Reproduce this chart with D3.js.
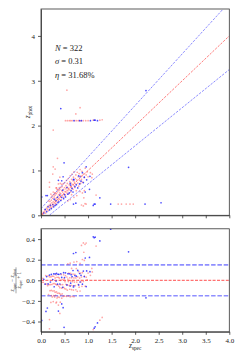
<!DOCTYPE html>
<meta charset="utf-8">
<style>
body { margin: 0; background: #fff; }
svg text { font-family: 'Liberation Serif', 'DejaVu Serif', serif; fill: #222; }
.axis path, .axis line { stroke: #333; stroke-width: 0.8px; }
.axis text { font-size: 7px; fill: #222; }
</style>
<body>
<svg width="240" height="360"></svg>
<script src="https://cdn.jsdelivr.net/npm/d3@7/dist/d3.min.js"></script>
<script>

// [z_spec, z_phot] pairs
var redPoints = [
  [0.02,0.04],[0.04,0.02],[0.05,0.07],[0.08,0.12],[0.10,0.05],[0.12,0.16],[0.14,0.20],[0.15,0.10],
  [0.17,0.22],[0.18,0.14],[0.19,0.31],[0.20,0.25],[0.21,0.17],[0.22,0.34],[0.23,0.28],[0.24,0.19],
  [0.25,0.38],[0.26,0.30],[0.27,0.22],[0.28,0.41],[0.29,0.33],[0.30,0.27],[0.30,0.45],[0.31,0.36],
  [0.32,0.25],[0.33,0.48],[0.33,0.39],[0.34,0.30],[0.35,0.52],[0.36,0.42],[0.37,0.33],[0.38,0.55],
  [0.38,0.46],[0.39,0.36],[0.40,0.50],[0.40,0.58],[0.41,0.41],[0.42,0.62],[0.42,0.48],[0.43,0.35],
  [0.44,0.55],[0.45,0.64],[0.45,0.44],[0.46,0.52],[0.47,0.70],[0.48,0.58],[0.48,0.40],[0.49,0.47],
  [0.50,0.62],[0.50,0.73],[0.51,0.53],[0.52,0.45],[0.53,0.66],[0.53,0.59],[0.54,0.78],[0.55,0.50],
  [0.56,0.63],[0.56,0.71],[0.57,0.55],[0.58,0.82],[0.58,0.60],[0.59,0.48],[0.60,0.68],[0.61,0.75],
  [0.61,0.57],[0.62,0.88],[0.63,0.64],[0.63,0.52],[0.64,0.72],[0.65,0.80],[0.65,0.61],[0.66,0.92],
  [0.67,0.69],[0.68,0.58],[0.68,0.77],[0.69,0.85],[0.70,0.66],[0.70,0.97],[0.71,0.74],[0.72,0.62],
  [0.73,0.82],[0.74,0.90],[0.74,0.70],[0.75,0.55],[0.76,0.79],[0.77,0.96],[0.78,0.72],[0.79,0.86],
  [0.80,0.65],[0.81,0.93],[0.82,0.78],[0.83,1.02],[0.84,0.71],[0.85,0.88],[0.86,0.80],[0.87,0.98],
  [0.88,0.74],[0.90,0.92],[0.92,0.84],[0.94,1.05],[0.96,0.90],[0.98,0.97],[1.00,0.86],[1.05,0.95],
  [0.16,0.32],[0.22,0.40],[0.27,0.46],[0.31,0.50],[0.36,0.58],[0.24,0.44],[0.29,0.50],[0.34,0.57],
  [0.39,0.62],[0.44,0.69],[0.26,0.52],[0.33,0.61],[0.41,0.71],[0.21,0.47],[0.37,0.70],[0.18,0.63],
  [0.18,0.735],[0.40,0.85],[0.32,0.61],
  [0.70,0.40],[0.76,0.44],[0.62,0.35],[0.88,0.50],[0.57,0.32],[0.92,0.55],[0.83,0.53],[0.65,0.46],
  [0.86,0.23],[0.935,0.26],[0.90,0.21],[0.91,0.39],[1.08,0.84],[1.09,0.92],[1.17,0.45],
  [0.55,2.79],[0.83,2.40],[0.74,2.26],[0.26,1.90],[0.35,1.27],[0.25,0.92],[0.30,1.03],[0.26,1.08],
  [0.52,2.11],[0.56,2.11],[0.60,2.11],[0.63,2.11],[0.66,2.11],[0.72,2.11],[0.76,2.11],[0.80,2.11],
  [0.85,2.11],[0.90,2.11],[0.95,2.11],[1.00,2.11],[1.11,2.12],[1.25,2.12],[1.30,2.13],
  [0.96,0.25],[1.64,0.25],[1.71,0.25],[1.81,0.25],[1.89,0.25],[1.96,0.25]
];

var bluePoints = [
  [0.015,0.41],[0.106,0.44],[0.135,0.44],[0.42,2.38],[2.23,2.78],[1.86,1.07],[0.49,1.17],[1.11,0.22],
  [1.13,0.25],[1.15,0.25],[1.48,0.25],[2.21,0.25],[2.55,0.28],[1.25,0.39],[0.94,0.52],[1.03,0.58],
  [0.69,0.25],[0.74,0.27],[0.37,0.78],[0.47,0.86],[0.63,0.675],[0.44,0.77],[0.69,0.80],[0.83,0.86],
  [0.97,0.79],[1.04,0.87],[0.96,1.08],
  [0.70,2.11],[0.82,2.11],[0.86,2.11],[1.05,2.11],[1.13,2.12],[1.15,2.12],[1.20,2.11],
  [0.06,0.05],[0.09,0.13],[0.12,0.08],[0.15,0.19],[0.18,0.12],[0.20,0.22],[0.22,0.15],[0.25,0.24],
  [0.27,0.19],[0.28,0.36],[0.30,0.22],[0.32,0.33],[0.33,0.24],[0.35,0.40],[0.36,0.28],[0.38,0.30],
  [0.40,0.45],[0.42,0.33],[0.44,0.40],[0.46,0.56],[0.48,0.37],[0.50,0.46],[0.52,0.41],[0.55,0.62],
  [0.57,0.47],[0.60,0.50],[0.62,0.71],[0.64,0.55],[0.66,0.60],[0.68,0.52],[0.70,0.79],[0.72,0.64],
  [0.75,0.68],[0.78,0.61],[0.80,0.88],[0.82,0.70],[0.85,0.76],[0.88,0.95],[0.90,0.73],[0.92,0.85]
];

var stats = [["N", " = 322"], ["σ", " = 0.31"], ["η", " = 31.68%"]];
var xTicks = [0, 0.5, 1, 1.5, 2, 2.5, 3, 3.5, 4];
var topYTicks = [0, 1, 2, 3, 4];
var botYTicks = [-0.4, -0.2, 0, 0.2, 0.4];
var outlierCut = 0.15;

(function() {
  var svg = d3.select("svg");

  var x = d3.scaleLinear().domain([0, 4]).range([41, 229.3]);
  var yTop = d3.scaleLinear().domain([0, 4.6]).range([215.3, 9]);
  var yBot = d3.scaleLinear().domain([-0.5, 0.5]).range([331.8, 228.8]);

  function dz(d) { return (d[0] - d[1]) / (1 + d[0]); }

  function clip(id, yScale) {
    svg.append("clipPath").attr("id", id)
      .append("rect")
        .attr("x", x.range()[0]).attr("y", yScale.range()[1])
        .attr("width", x.range()[1] - x.range()[0])
        .attr("height", yScale.range()[0] - yScale.range()[1]);
  }
  clip("clipTop", yTop);
  clip("clipBot", yBot);

  function drawPoints(g, data, color, opacity, yv) {
    g.append("g").selectAll("circle")
      .data(data)
      .enter().append("circle")
        .attr("cx", function(d) { return x(d[0]); })
        .attr("cy", yv)
        .attr("r", 0.85)
        .attr("fill", color)
        .attr("fill-opacity", opacity);
  }

  // top panel: z_phot vs z_spec
  var topPanel = svg.append("g").attr("clip-path", "url(#clipTop)");

  drawPoints(topPanel, redPoints, "#ff2020", 0.4, function(d) { return yTop(d[1]); });
  drawPoints(topPanel, bluePoints, "#1010ff", 0.75, function(d) { return yTop(d[1]); });

  var refLines = [
    {k: 0, color: "#ff3030", op: 0.8},
    {k: outlierCut, color: "#3030ff", op: 0.7},
    {k: -outlierCut, color: "#3030ff", op: 0.7}
  ];
  topPanel.selectAll("line.ref")
    .data(refLines)
    .enter().append("line")
      .attr("x1", x(0)).attr("x2", x(4))
      .attr("y1", function(d) { return yTop(0 + d.k * 1); })
      .attr("y2", function(d) { return yTop(4 + d.k * 5); })
      .attr("stroke", function(d) { return d.color; })
      .attr("stroke-opacity", function(d) { return d.op; })
      .attr("stroke-width", 0.8)
      .attr("stroke-dasharray", "2.4,1.3");

  // bottom panel: normalised residual
  var botPanel = svg.append("g").attr("clip-path", "url(#clipBot)");

  botPanel.selectAll("line.ref")
    .data(refLines)
    .enter().append("line")
      .attr("x1", x(0)).attr("x2", x(4))
      .attr("y1", function(d) { return yBot(d.k); })
      .attr("y2", function(d) { return yBot(d.k); })
      .attr("stroke", function(d) { return d.k == 0 ? "#ff3030" : "#6a6aff"; })
      .attr("stroke-opacity", function(d) { return d.k == 0 ? 0.85 : 0.75; })
      .attr("stroke-width", function(d) { return d.k == 0 ? 1 : 1.6; })
      .attr("stroke-dasharray", function(d) { return d.k == 0 ? "3,1.4" : "4.5,1.8"; });

  drawPoints(botPanel, redPoints, "#ff2020", 0.4, function(d) { return yBot(dz(d)); });
  drawPoints(botPanel, bluePoints, "#1010ff", 0.75, function(d) { return yBot(dz(d)); });

  // axes
  var fmt = d3.format(".1f");

  svg.append("g").attr("class", "axis")
      .attr("transform", "translate(0," + yTop.range()[0] + ")")
      .call(d3.axisBottom(x).tickValues(xTicks).tickSize(3).tickSizeOuter(0).tickFormat(""));
  svg.append("g").attr("class", "axis")
      .attr("transform", "translate(" + x.range()[0] + ",0)")
      .call(d3.axisLeft(yTop).tickValues(topYTicks).tickSize(3).tickSizeOuter(0).tickFormat(d3.format("d")));

  svg.append("g").attr("class", "axis")
      .attr("transform", "translate(0," + yBot.range()[0] + ")")
      .call(d3.axisBottom(x).tickValues(xTicks).tickSize(3).tickSizeOuter(0).tickFormat(fmt));
  svg.append("g").attr("class", "axis")
      .attr("transform", "translate(" + x.range()[0] + ",0)")
      .call(d3.axisLeft(yBot).tickValues(botYTicks).tickSize(3).tickSizeOuter(0).tickFormat(fmt));

  svg.selectAll(".axis").attr("font-family", null);

  // frames
  [yTop, yBot].forEach(function(s) {
    svg.append("rect")
        .attr("x", x.range()[0]).attr("y", s.range()[1])
        .attr("width", x.range()[1] - x.range()[0])
        .attr("height", s.range()[0] - s.range()[1])
        .attr("fill", "none").attr("stroke", "#333").attr("stroke-width", 0.8);
  });

  // stats text
  var st = svg.append("g");
  stats.forEach(function(s, i) {
    var t = st.append("text")
        .attr("x", 55).attr("y", 50.5 + i * 13.5)
        .attr("font-size", 8.5);
    t.append("tspan").attr("font-style", "italic").text(s[0]);
    t.append("tspan").text(s[1]);
  });

  // axis labels
  function zLabel(g, sub, size) {
    g.append("tspan").attr("font-style", "italic").attr("font-size", size).text("z");
    g.append("tspan").attr("font-size", size * 0.7).attr("dy", size * 0.22).text(sub);
  }

  var xl = svg.append("text")
      .attr("x", (x.range()[0] + x.range()[1]) / 2).attr("y", 348)
      .attr("text-anchor", "middle");
  zLabel(xl, "spec", 7.5);

  var yl = svg.append("text")
      .attr("transform", "translate(30," + yTop(2.3) + ") rotate(-90)")
      .attr("text-anchor", "middle");
  zLabel(yl, "phot", 7.5);

  // fraction label for residual panel
  var fr = svg.append("g")
      .attr("transform", "translate(16," + yBot(0) + ") rotate(-90)");
  var num = fr.append("text").attr("y", -1.6).attr("text-anchor", "middle");
  zLabel(num, "spec", 5.2);
  num.append("tspan").attr("font-size", 5.2).attr("dy", -5.2 * 0.22).text(" − ");
  zLabel(num, "phot", 5.2);
  fr.append("line")
      .attr("x1", -13).attr("x2", 13).attr("y1", 0).attr("y2", 0)
      .attr("stroke", "#222").attr("stroke-width", 0.4);
  var den = fr.append("text").attr("y", 4.6).attr("text-anchor", "middle");
  zLabel(den, "spec", 5.2);
  den.append("tspan").attr("font-size", 5.2).attr("dy", -5.2 * 0.22).text(" + 1");
})();

</script>
</body>
